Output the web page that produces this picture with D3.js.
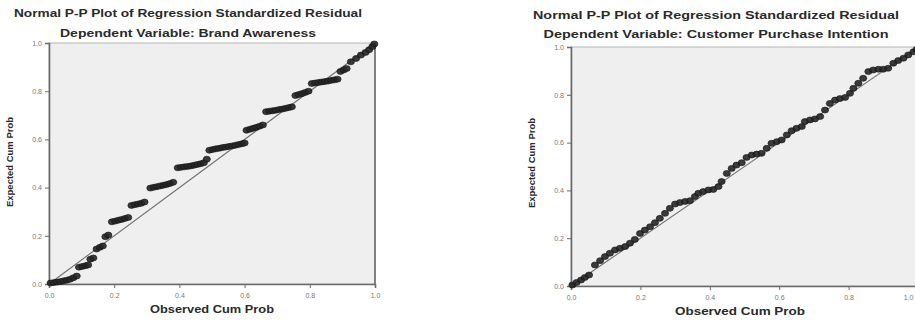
<!DOCTYPE html>
<html>
<head>
<meta charset="utf-8">
<script src="https://cdn.jsdelivr.net/npm/d3@7"></script>
<style>
  html, body { margin: 0; padding: 0; background: #fff; }
  svg { display: block; font-family: "Liberation Sans", Arial, sans-serif; }
</style>
</head>
<body>
<svg id="chart" width="915" height="320"></svg>
<script>
// ---- data ----
const mainTitle = "Normal P-P Plot of Regression Standardized Residual";
const depTitles = ["Dependent Variable: Brand Awareness", "Dependent Variable: Customer Purchase Intention"];
const xTitle = "Observed Cum Prob";
const yTitle = "Expected Cum Prob";
const tickValues = [0, 0.2, 0.4, 0.6, 0.8, 1.0];

// Brand Awareness: observed cum prob (x) / expected cum prob (y)
const brandObserved = [
  0.005, 0.015, 0.025, 0.035, 0.045, 0.055, 0.065, 0.075, 0.085,
  0.092, 0.102, 0.112, 0.120,
  0.127, 0.136,
  0.146, 0.156, 0.165,
  0.173, 0.182,
  0.193, 0.203, 0.213, 0.223, 0.233, 0.243,
  0.253, 0.263, 0.273, 0.283, 0.293,
  0.311, 0.321, 0.331, 0.341, 0.351, 0.361, 0.371, 0.381,
  0.395, 0.405, 0.415, 0.425, 0.435, 0.445, 0.455, 0.465, 0.475, 0.484,
  0.492, 0.502, 0.512, 0.522, 0.532, 0.542, 0.552, 0.562, 0.572, 0.582, 0.592, 0.600,
  0.606, 0.616, 0.626, 0.636, 0.646, 0.656,
  0.666, 0.676, 0.686, 0.696, 0.706, 0.716, 0.726, 0.736, 0.745,
  0.756, 0.766, 0.776, 0.786, 0.796,
  0.806, 0.816, 0.826, 0.836, 0.846, 0.856, 0.866, 0.876, 0.885,
  0.894, 0.904, 0.913,
  0.926, 0.942, 0.957, 0.971, 0.982, 0.992, 0.998
];
const brandExpected = [
  0.004, 0.006, 0.008, 0.010, 0.013, 0.016, 0.020, 0.026, 0.033,
  0.070, 0.073, 0.076, 0.079,
  0.103, 0.108,
  0.145, 0.152, 0.158,
  0.196, 0.203,
  0.258, 0.261, 0.265, 0.268, 0.272, 0.276,
  0.326, 0.329, 0.332, 0.335, 0.340,
  0.398, 0.401, 0.404, 0.407, 0.410, 0.413, 0.417, 0.422,
  0.482, 0.484, 0.486, 0.488, 0.490, 0.493, 0.496, 0.499, 0.503, 0.518,
  0.555, 0.558, 0.561, 0.563, 0.566, 0.568, 0.571, 0.573, 0.576, 0.579, 0.582, 0.585,
  0.638, 0.642, 0.646, 0.650, 0.655, 0.660,
  0.715, 0.717, 0.719, 0.721, 0.724, 0.726, 0.729, 0.732, 0.735,
  0.782, 0.786, 0.790, 0.795, 0.800,
  0.832, 0.834, 0.836, 0.838, 0.840, 0.842, 0.845, 0.847, 0.850,
  0.882, 0.888, 0.894,
  0.922, 0.936, 0.950, 0.961, 0.972, 0.985, 0.996
];

// Customer Purchase Intention
const purchaseObserved = [
  0.004, 0.016, 0.029, 0.040, 0.052, 0.069, 0.084, 0.098, 0.112, 0.127,
  0.141, 0.156, 0.170, 0.184, 0.199, 0.213, 0.228, 0.242, 0.256, 0.271,
  0.285, 0.300, 0.314, 0.329, 0.343, 0.357, 0.367, 0.381, 0.396, 0.410,
  0.425, 0.434, 0.449, 0.463, 0.477, 0.492, 0.506, 0.521, 0.535, 0.549,
  0.564, 0.578, 0.593, 0.607, 0.622, 0.636, 0.650, 0.665, 0.674, 0.689,
  0.703, 0.718, 0.732, 0.746, 0.761, 0.775, 0.790, 0.804, 0.814, 0.828,
  0.842, 0.857, 0.871, 0.886, 0.900, 0.914, 0.929, 0.943, 0.958, 0.972,
  0.987, 0.996
];
const purchaseExpected = [
  0.004, 0.015, 0.025, 0.036, 0.046, 0.088, 0.106, 0.123, 0.137, 0.151,
  0.158, 0.165, 0.179, 0.195, 0.220, 0.234, 0.248, 0.265, 0.283, 0.304,
  0.325, 0.343, 0.349, 0.354, 0.357, 0.374, 0.388, 0.395, 0.402, 0.404,
  0.416, 0.437, 0.471, 0.492, 0.506, 0.516, 0.538, 0.548, 0.552, 0.555,
  0.576, 0.597, 0.604, 0.611, 0.632, 0.650, 0.660, 0.667, 0.688, 0.695,
  0.699, 0.709, 0.736, 0.764, 0.778, 0.784, 0.789, 0.806, 0.827, 0.848,
  0.869, 0.897, 0.904, 0.907, 0.907, 0.911, 0.932, 0.943, 0.953, 0.967,
  0.980, 0.990
];

const svg = d3.select("#chart");

function drawPanel(opts) {
  const g = svg.append("g");
  const x = d3.scaleLinear().domain([0, 1]).range([opts.left, opts.right]);
  const y = d3.scaleLinear().domain([0, 1]).range([opts.bottom, opts.top]);

  // titles
  g.append("text")
    .attr("x", opts.titleX).attr("y", opts.title1Y)
    .attr("text-anchor", "middle")
    .attr("font-size", 10.5).attr("font-weight", "bold").attr("fill", "#2a2a2a")
    .attr("textLength", opts.title1Len).attr("lengthAdjust", "spacingAndGlyphs")
    .text(mainTitle);
  g.append("text")
    .attr("x", opts.titleX).attr("y", opts.title2Y)
    .attr("text-anchor", "middle")
    .attr("font-size", 10.5).attr("font-weight", "bold").attr("fill", "#2a2a2a")
    .attr("textLength", opts.title2Len).attr("lengthAdjust", "spacingAndGlyphs")
    .text(opts.subTitle);

  // plot background
  g.append("rect")
    .attr("x", x(0)).attr("y", y(1))
    .attr("width", x(1) - x(0)).attr("height", y(0) - y(1))
    .attr("fill", "#efefef").attr("stroke", "#b8b8b8");

  // axes
  const xAxis = d3.axisBottom(x).tickValues(tickValues).tickFormat(d3.format(".1f")).tickSize(4);
  const yAxis = d3.axisLeft(y).tickValues(tickValues).tickFormat(d3.format(".1f")).tickSize(4);

  const gx = g.append("g").attr("transform", `translate(0,${y(0)})`).call(xAxis);
  const gy = g.append("g").attr("transform", `translate(${x(0)},0)`).call(yAxis);
  [gx, gy].forEach(a => {
    a.select(".domain").attr("stroke", "#6a6a6a").attr("stroke-width", 1.6);
    a.selectAll(".tick line").attr("stroke", "#6a6a6a");
    a.selectAll(".tick text").attr("fill", "#777").attr("font-size", 7)
      .attr("font-family", "Liberation Sans, Arial, sans-serif");
  });
  gx.selectAll(".tick text").attr("dy", "1em");
  // last label would run past the page edge on the right panel
  if (opts.clipLastLabel) {
    gx.selectAll(".tick text").filter(d => d === 1).attr("text-anchor", "end").attr("x", -5);
  }

  if (opts.rightBorder) {
    g.append("line")
      .attr("x1", x(1)).attr("x2", x(1)).attr("y1", y(1)).attr("y2", y(0))
      .attr("stroke", "#6a6a6a").attr("stroke-width", 1.6);
  }

  // axis titles
  g.append("text")
    .attr("x", opts.xTitleX).attr("y", opts.bottom + 29)
    .attr("text-anchor", "middle")
    .attr("font-size", 10.5).attr("font-weight", "bold").attr("fill", "#2a2a2a")
    .attr("textLength", opts.xTitleLen).attr("lengthAdjust", "spacingAndGlyphs")
    .text(xTitle);
  g.append("text")
    .attr("transform", `translate(${opts.yTitleX},${opts.yTitleY}) rotate(-90)`)
    .attr("text-anchor", "middle")
    .attr("font-size", 8.5).attr("font-weight", "bold").attr("fill", "#2a2a2a")
    .attr("textLength", 90).attr("lengthAdjust", "spacingAndGlyphs")
    .text(yTitle);

  // reference diagonal
  g.append("line")
    .attr("x1", x(0)).attr("y1", y(0)).attr("x2", x(1)).attr("y2", y(1))
    .attr("stroke", "#707070").attr("stroke-width", 1.1);

  // points
  const pts = opts.observed.map((o, i) => ({ o: o, e: opts.expected[i] }));
  g.append("g").selectAll("ellipse")
    .data(pts)
    .enter().append("ellipse")
    .attr("cx", d => x(d.o))
    .attr("cy", d => y(d.e))
    .attr("rx", 3.6).attr("ry", 3)
    .attr("fill", "#262626")
    .attr("stroke", "#111").attr("stroke-width", 0.6)
    .attr("fill-opacity", 0.9);
}

drawPanel({
  left: 49, right: 375, top: 43, bottom: 284,
  titleX: 188, title1Y: 17, title2Y: 37, title1Len: 348, title2Len: 256,
  subTitle: depTitles[0],
  xTitleX: 212, xTitleLen: 124,
  yTitleX: 13, yTitleY: 162,
  rightBorder: true,
  observed: brandObserved, expected: brandExpected
});

drawPanel({
  left: 571, right: 918, top: 47, bottom: 286,
  titleX: 716, title1Y: 19, title2Y: 38, title1Len: 366, title2Len: 345,
  subTitle: depTitles[1],
  xTitleX: 740, xTitleLen: 130,
  yTitleX: 535, yTitleY: 163,
  rightBorder: false, clipLastLabel: true,
  observed: purchaseObserved, expected: purchaseExpected
});
</script>
</body>
</html>
